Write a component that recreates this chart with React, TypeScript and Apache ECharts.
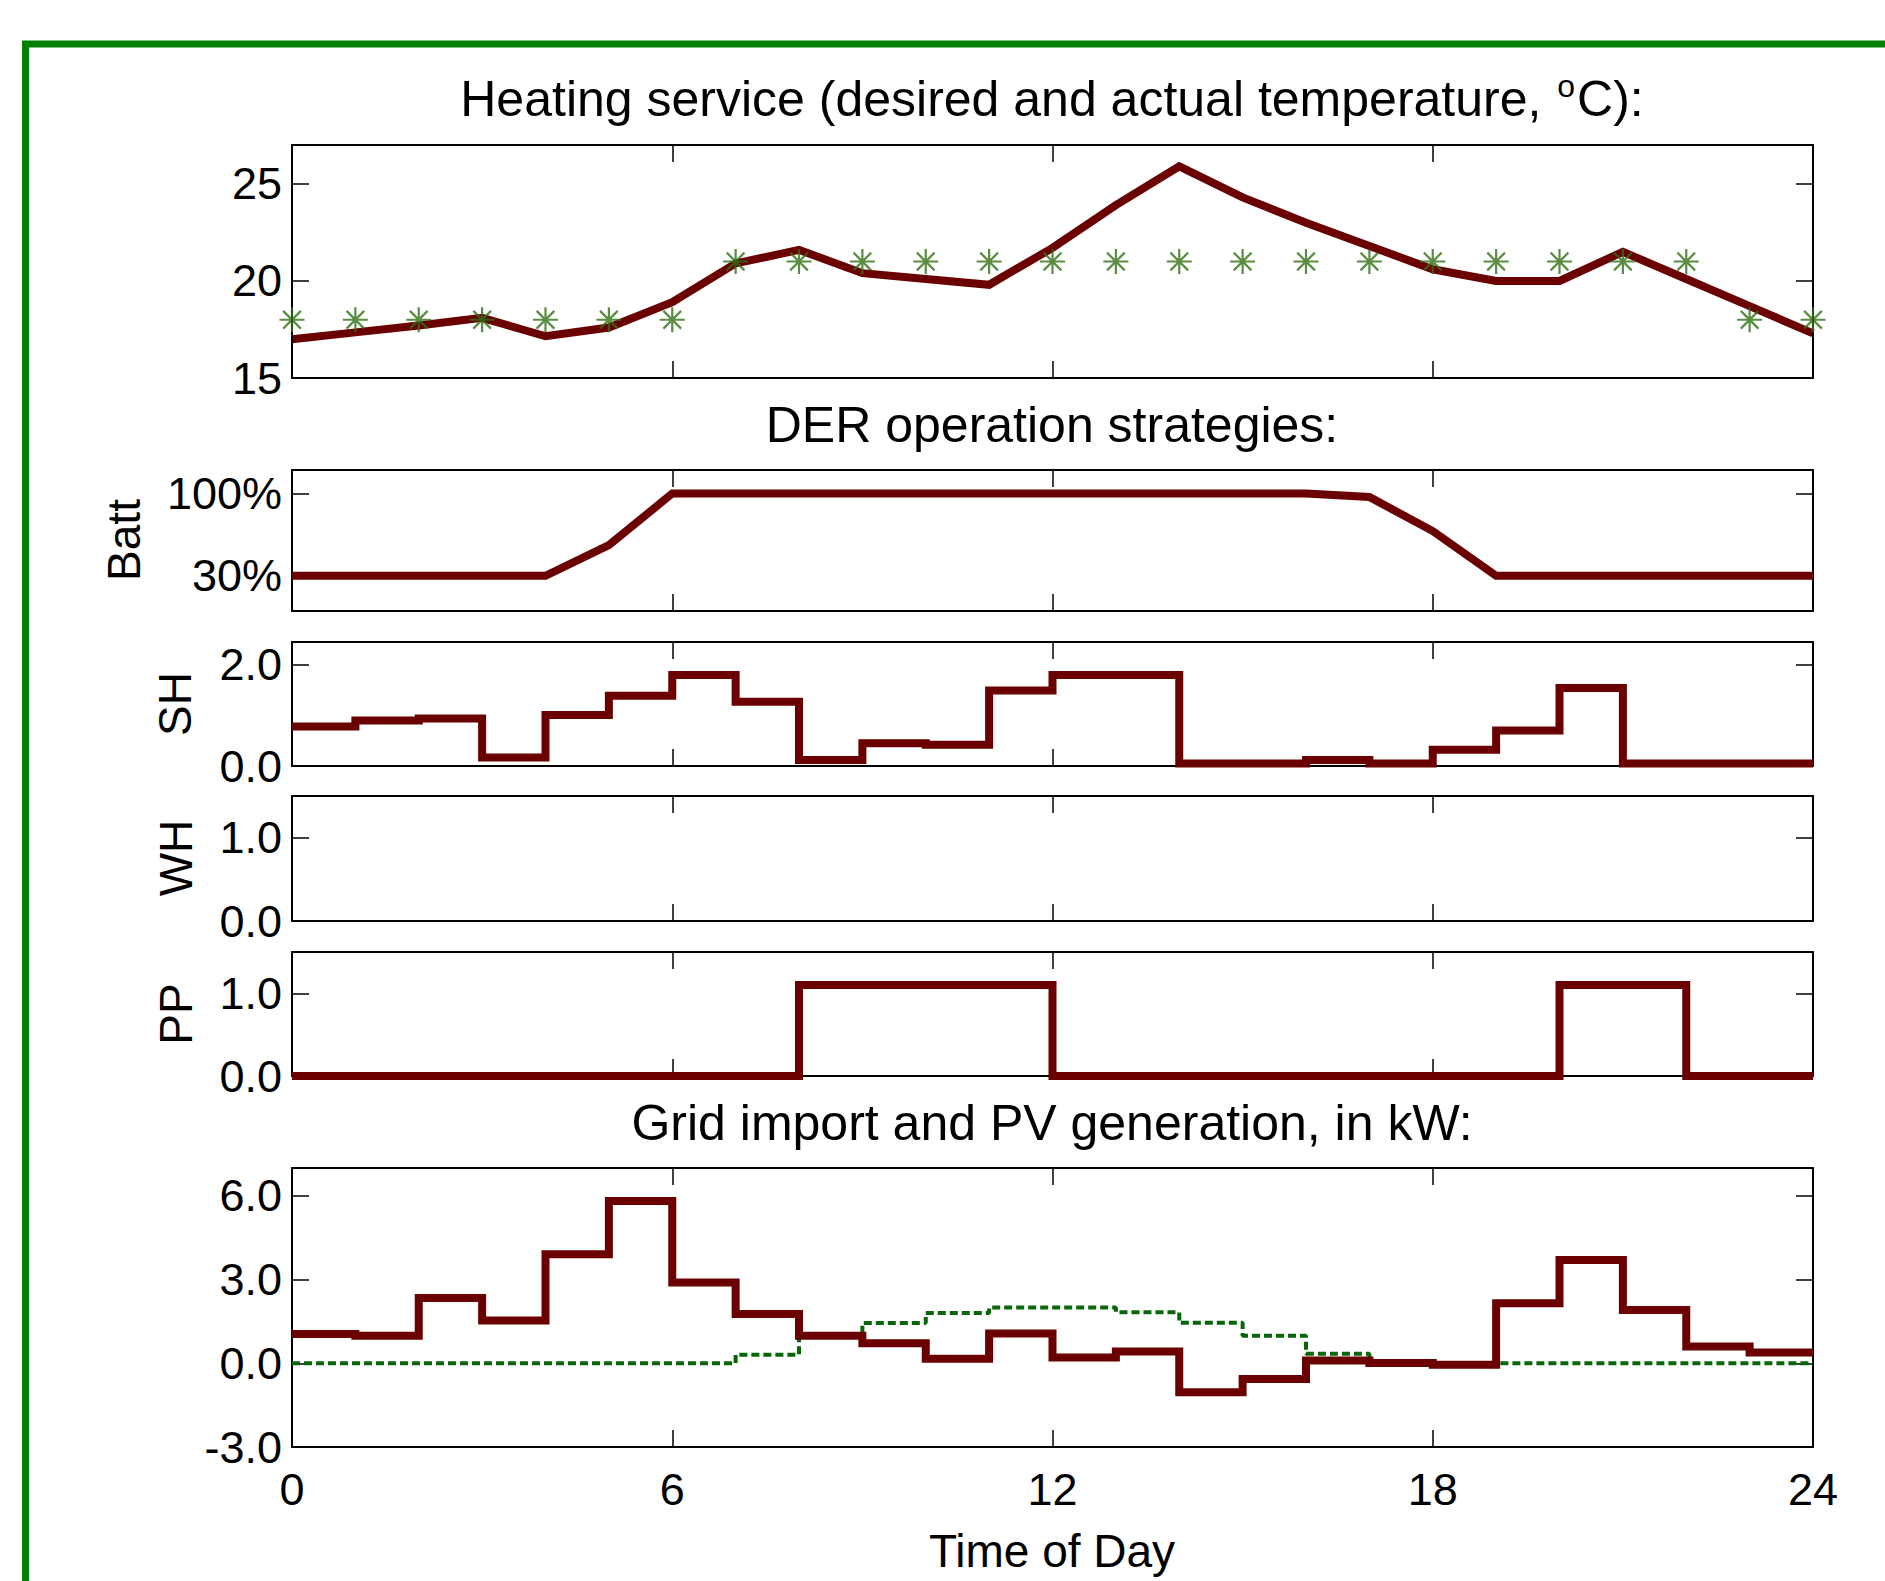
import React, { useEffect, useRef } from 'react';
import * as echarts from 'echarts';

// ---------- data ----------
const hours = [0, 1, 2, 3, 4, 5, 6, 7, 8, 9, 10, 11, 12, 13, 14, 15, 16, 17, 18, 19, 20, 21, 22, 23, 24];
const xTicks = [0, 6, 12, 18, 24];

// Heating service (°C), hourly points
const tempActual = [17.0, 17.35, 17.7, 18.1, 17.15, 17.6, 18.9, 20.9, 21.6, 20.4, 20.1, 19.8, 21.7, 23.9, 25.9, 24.3, 23.0, 21.8, 20.6, 20.0, 20.0, 21.5, 20.1, 18.7, 17.3];
const tempDesired = [18, 18, 18, 18, 18, 18, 18, 21, 21, 21, 21, 21, 21, 21, 21, 21, 21, 21, 21, 21, 21, 21, 21, 18, 18];
const tempTicks = [15, 20, 25];

// Battery state of charge (%), hourly points
const battery = [30, 30, 30, 30, 30, 56, 100, 100, 100, 100, 100, 100, 100, 100, 100, 100, 100, 97, 68, 30, 30, 30, 30, 30, 30];
const battTicks = [30, 100];

// Stair values, one per hour interval (0-1, 1-2, ... 23-24)
const shValues = [0.78, 0.9, 0.94, 0.17, 1.01, 1.39, 1.8, 1.27, 0.12, 0.45, 0.42, 1.49, 1.8, 1.8, 0.05, 0.05, 0.12, 0.05, 0.32, 0.7, 1.54, 0.05, 0.05, 0.05];
const shTicks = [0, 2];
const whValues: number[] = [];
const whTicks = [0, 1];
const ppValues = [0, 0, 0, 0, 0, 0, 0, 0, 1.1, 1.1, 1.1, 1.1, 0, 0, 0, 0, 0, 0, 0, 0, 1.1, 1.1, 0, 0];
const ppTicks = [0, 1];
const gridImport = [1.05, 0.99, 2.34, 1.53, 3.91, 5.82, 2.9, 1.77, 0.99, 0.72, 0.16, 1.07, 0.21, 0.42, -1.04, -0.56, 0.1, 0.01, -0.05, 2.15, 3.7, 1.91, 0.6, 0.39];
const pvGeneration = [0, 0, 0, 0, 0, 0, 0, 0.31, 1.05, 1.44, 1.8, 2.0, 2.0, 1.83, 1.45, 0.99, 0.34, 0, 0, 0, 0, 0, 0, 0];
const gridTicks = [-3, 0, 3, 6];

// ---------- styling ----------
const FONT = '"Liberation Sans", Arial, Helvetica, sans-serif';
const RED = '#6b0000';
const STAR_GREEN = '#2f7012';
const PV_GREEN = '#086608';

const panels = [
  { top: 145, height: 233, min: 15, max: 27, ticks: tempTicks, fmt: (v: number) => String(v) },
  { top: 470, height: 141, min: 0, max: 120, ticks: battTicks, fmt: (v: number) => v + '%' },
  { top: 642, height: 124, min: 0, max: 2.45, ticks: shTicks, fmt: (v: number) => v.toFixed(1) },
  { top: 796, height: 125, min: 0, max: 1.5, ticks: whTicks, fmt: (v: number) => v.toFixed(1) },
  { top: 952, height: 124, min: 0, max: 1.5, ticks: ppTicks, fmt: (v: number) => v.toFixed(1) },
  { top: 1168, height: 279, min: -3, max: 7, ticks: gridTicks, fmt: (v: number) => v.toFixed(1) },
];

function points(values: number[]) {
  return values.map((v, i) => [hours[i], v]);
}
function stairs(values: number[]) {
  const pts = values.map((v, i) => [hours[i], v]);
  if (values.length) pts.push([hours[values.length], values[values.length - 1]]);
  return pts;
}

const axisLine = { show: true, onZero: false, lineStyle: { color: '#000', width: 2 } };
const axisTick = (vals: number[]) => ({ show: true, inside: true, length: 17, customValues: vals, lineStyle: { color: '#000', width: 1.5 } });

export default function App() {
  const ref = useRef<HTMLDivElement>(null);
  useEffect(() => {
    if (!ref.current) return;
    const chart = echarts.init(ref.current, undefined, { renderer: 'svg' });

    const grids = panels.map((p) => ({ left: 292, right: 72, top: p.top, height: p.height, outerBoundsMode: 'none', containLabel: false }));
    const xAxes: any[] = [];
    const yAxes: any[] = [];
    panels.forEach((p, i) => {
      ['bottom', 'top'].forEach((pos) => {
        xAxes.push({
          type: 'value', gridIndex: i, position: pos, min: 0, max: 24, interval: 6, z: 3,
          axisLine, axisTick: axisTick(xTicks), splitLine: { show: false },
          axisLabel: {
            show: pos === 'bottom' && i === panels.length - 1, customValues: xTicks,
            fontSize: 45, fontFamily: FONT, color: '#000', margin: 20,
          },
        });
      });
      ['left', 'right'].forEach((pos) => {
        yAxes.push({
          type: 'value', gridIndex: i, position: pos, min: p.min, max: p.max, z: 3,
          axisLine, axisTick: axisTick(p.ticks), splitLine: { show: false },
          axisLabel: {
            show: pos === 'left', customValues: p.ticks, formatter: p.fmt,
            fontSize: 45, fontFamily: FONT, color: '#000', margin: 10,
          },
        });
      });
    });

    const redLine = { color: RED, width: 8, join: 'miter', cap: 'butt' };
    const series: any[] = [
      { type: 'line', xAxisIndex: 0, yAxisIndex: 0, data: points(tempActual), symbol: 'none', lineStyle: redLine, z: 2 },
      {
        type: 'scatter', xAxisIndex: 0, yAxisIndex: 0, data: points(tempDesired), clip: false, z: 4,
        symbol: 'path://M12,0L12,24M0,12L24,12M3.5,3.5L20.5,20.5M3.5,20.5L20.5,3.5', symbolSize: 25,
        itemStyle: { color: 'transparent', borderColor: STAR_GREEN, borderWidth: 2.2 },
      },
      { type: 'line', xAxisIndex: 2, yAxisIndex: 2, data: points(battery), symbol: 'none', lineStyle: redLine },
      { type: 'line', xAxisIndex: 4, yAxisIndex: 4, data: stairs(shValues), step: 'end', symbol: 'none', lineStyle: redLine },
      { type: 'line', xAxisIndex: 6, yAxisIndex: 6, data: stairs(whValues), step: 'end', symbol: 'none', lineStyle: redLine },
      { type: 'line', xAxisIndex: 8, yAxisIndex: 8, data: stairs(ppValues), step: 'end', symbol: 'none', lineStyle: redLine },
      { type: 'line', xAxisIndex: 10, yAxisIndex: 10, data: stairs(pvGeneration), step: 'end', symbol: 'none', lineStyle: { color: PV_GREEN, width: 4, type: [8, 4] } },
      { type: 'line', xAxisIndex: 10, yAxisIndex: 10, data: stairs(gridImport), step: 'end', symbol: 'none', lineStyle: redLine },
    ];

    const txt = (text: string, x: number, y: number, size: number, rot = 0) => ({
      type: 'text', x, y, rotation: rot,
      style: { text, fontSize: size, fontFamily: FONT, fill: '#000', align: 'center', verticalAlign: 'middle' },
    });

    const graphic: any[] = [
      { type: 'rect', shape: { x: 25.5, y: 44, width: 2200, height: 2200 }, style: { fill: 'none', stroke: '#008000', lineWidth: 7 }, z: 0 },
      {
        type: 'text', x: 1052, y: 99,
        style: {
          text: '{a|Heating service (desired and actual temperature, }{b|o}{a|C):}',
          align: 'center', verticalAlign: 'middle',
          rich: {
            a: { fontSize: 50, fontFamily: FONT, fill: '#000' },
            b: { fontSize: 32, fontFamily: FONT, fill: '#000', verticalAlign: 'top', padding: [0, 2, 26, 2] },
          },
        },
      },
      txt('DER operation strategies:', 1052, 425, 50),
      txt('Grid import and PV generation, in kW:', 1052, 1123, 50),
      txt('Time of Day', 1052, 1551, 46),
      txt('Batt', 124, 540, 46, Math.PI / 2),
      txt('SH', 175, 704, 46, Math.PI / 2),
      txt('WH', 176, 858, 46, Math.PI / 2),
      txt('PP', 176, 1014, 46, Math.PI / 2),
    ];

    chart.setOption({
      animation: false,
      backgroundColor: '#fff',
      grid: grids,
      xAxis: xAxes,
      yAxis: yAxes,
      series,
      graphic,
    });
    return () => chart.dispose();
  }, []);
  return <div ref={ref} style={{ position: 'absolute', left: 0, top: 0, width: 1885, height: 1581 }} />;
}
